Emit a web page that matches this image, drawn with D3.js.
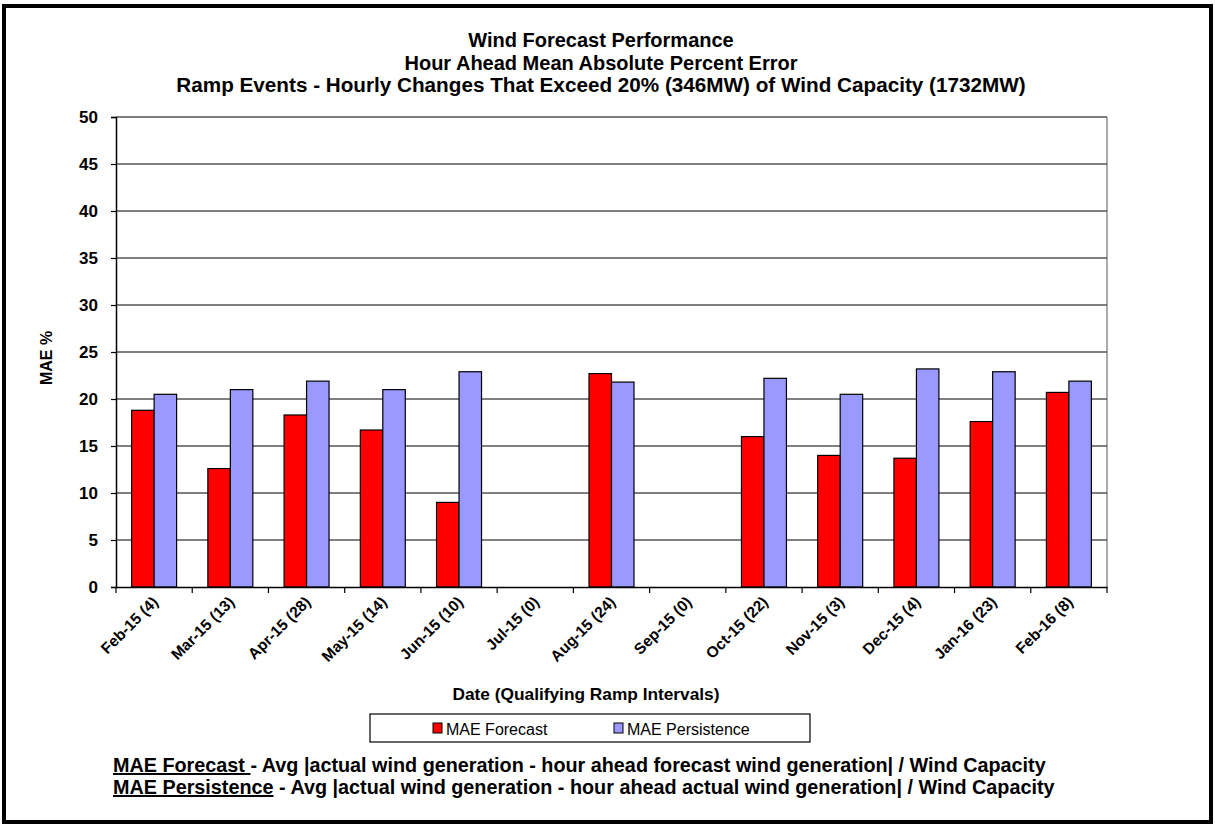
<!DOCTYPE html>
<html><head><meta charset="utf-8">
<script src="https://cdn.jsdelivr.net/npm/d3@7"></script>
<style>body{margin:0;background:#fff}svg{display:block;font-family:"Liberation Sans",Arial,sans-serif}</style>
</head><body><svg id="c" width="1215" height="827"></svg>
<script>
const categories = ["Feb-15 (4)","Mar-15 (13)","Apr-15 (28)","May-15 (14)","Jun-15 (10)","Jul-15 (0)","Aug-15 (24)","Sep-15 (0)","Oct-15 (22)","Nov-15 (3)","Dec-15 (4)","Jan-16 (23)","Feb-16 (8)"];
const maeForecast = [18.8,12.6,18.3,16.7,9.0,null,22.7,null,16.0,14.0,13.7,17.6,20.7];
const maePersistence = [20.5,21.0,21.9,21.0,22.9,null,21.8,null,22.2,20.5,23.2,22.9,21.9];
const yTicks = [0,5,10,15,20,25,30,35,40,45,50];
const seriesNames = ["MAE Forecast","MAE Persistence"];
const seriesColors = ["#FF0000","#9999FF"];
const titleLines = ["Wind Forecast Performance","Hour Ahead Mean Absolute Percent Error","Ramp Events - Hourly Changes That Exceed 20% (346MW) of Wind Capacity (1732MW)"];

const svg = d3.select("#c");
svg.append("rect").attr("x",4).attr("y",6).attr("width",1207).attr("height",816)
  .attr("fill","#fff").attr("stroke","#000").attr("stroke-width",4);

const L=116, R=1107, T=117, B=587;
const x = d3.scaleBand().domain(categories).range([L,R]).padding(0);
const y = d3.scaleLinear().domain([0,50]).range([B,T]);
const bw = x.bandwidth();
const gw = bw*0.59;
const x1 = d3.scaleBand().domain([0,1]).range([(bw-gw)/2,(bw+gw)/2]).padding(0);

svg.append("g").selectAll("text").data(titleLines).join("text")
  .attr("x",601).attr("y",(d,i)=>47+i*22.5).attr("text-anchor","middle")
  .attr("font-weight","bold").attr("font-size",(d,i)=>i===2?20.7:20).text(d=>d);

svg.append("g").selectAll("line").data(yTicks.filter(d=>d>0)).join("line")
  .attr("x1",L).attr("x2",R).attr("y1",d=>y(d)).attr("y2",d=>y(d))
  .attr("stroke","#000").attr("stroke-width",1);
svg.append("line").attr("x1",R).attr("x2",R).attr("y1",T).attr("y2",B).attr("stroke","#555").attr("stroke-width",1);

const series=[maeForecast,maePersistence];
series.forEach((vals,si)=>{
  svg.append("g").selectAll("rect").data(categories.map((c,i)=>({c,v:vals[i]})).filter(d=>d.v!=null)).join("rect")
    .attr("x",d=>x(d.c)+x1(si)).attr("width",x1.bandwidth())
    .attr("y",d=>y(d.v)).attr("height",d=>B-y(d.v))
    .attr("fill",seriesColors[si]).attr("stroke","#000").attr("stroke-width",1.2);
});

const ya = svg.append("g").attr("transform",`translate(${L},0)`)
  .call(d3.axisLeft(y).tickValues(yTicks).tickSize(5).tickPadding(13));
ya.select(".domain").attr("stroke","#000").attr("stroke-width",1.5);
ya.selectAll(".tick line").attr("stroke","#000").attr("stroke-width",1.2);
ya.selectAll("text").attr("font-family","Liberation Sans, Arial, sans-serif").attr("font-size",17).attr("font-weight","bold").attr("fill","#000");

const xa = svg.append("g").attr("transform",`translate(0,${B})`)
  .call(d3.axisBottom(x).tickSizeOuter(0).tickSize(0).tickFormat(""));
xa.select(".domain").attr("stroke","#000").attr("stroke-width",1.5);
svg.append("g").selectAll("line").data(d3.range(categories.length+1)).join("line")
  .attr("x1",i=>L+i*bw).attr("x2",i=>L+i*bw).attr("y1",B).attr("y2",B+6)
  .attr("stroke","#000").attr("stroke-width",1.2);
svg.append("g").selectAll("text").data(categories).join("text")
  .attr("transform",d=>`translate(${x(d)+bw/2+5},${B+16}) rotate(-45)`)
  .attr("text-anchor","end").attr("font-size",15.5).attr("font-weight","bold").text(d=>d);

svg.append("text").attr("transform",`translate(52,358) rotate(-90)`).attr("text-anchor","middle")
  .attr("font-size",16).attr("font-weight","bold").text("MAE %");
svg.append("text").attr("x",586).attr("y",700).attr("text-anchor","middle")
  .attr("font-size",17.3).attr("font-weight","bold").text("Date (Qualifying Ramp Intervals)");

svg.append("rect").attr("x",370).attr("y",714).attr("width",440).attr("height",28)
  .attr("fill","#fff").attr("stroke","#000").attr("stroke-width",1.2);
const lx=[433,614];
seriesNames.forEach((n,i)=>{
  svg.append("rect").attr("x",lx[i]).attr("y",723).attr("width",9).attr("height",10)
    .attr("fill",seriesColors[i]).attr("stroke","#000").attr("stroke-width",1);
  svg.append("text").attr("x",lx[i]+13).attr("y",735).attr("font-size",16).text(n);
});

const notes=[["MAE Forecast ","- Avg |actual wind generation - hour ahead forecast wind generation| / Wind Capacity"],
             ["MAE Persistence"," - Avg |actual wind generation - hour ahead actual wind generation| / Wind Capacity"]];
notes.forEach((n,i)=>{
  const t=svg.append("text").attr("x",113).attr("y",772+i*22).attr("font-size",19.8).attr("font-weight","bold");
  t.append("tspan").attr("text-decoration","underline").text(n[0]);
  t.append("tspan").text(n[1]);
});
</script></body></html>
